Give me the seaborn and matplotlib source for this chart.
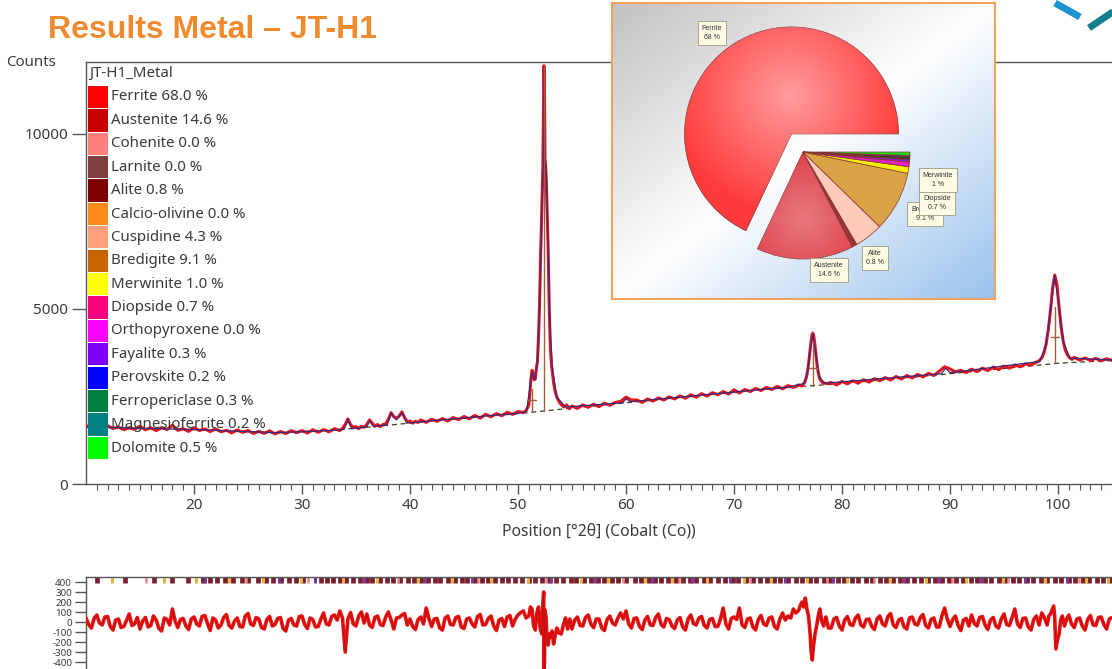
import numpy as np
import matplotlib
matplotlib.use("Agg")
import matplotlib.pyplot as plt
from matplotlib.patches import Rectangle
from matplotlib.lines import Line2D
import seaborn as sns

W, H, DPI = 1112, 669, 100

# ---------------- phase quantification ----------------
phase_names = ["Ferrite", "Austenite", "Cohenite", "Larnite", "Alite", "Calcio-olivine",
               "Cuspidine", "Bredigite", "Merwinite", "Diopside", "Orthopyroxene",
               "Fayalite", "Perovskite", "Ferropericlase", "Magnesioferrite", "Dolomite"]
phase_pct = [68.0, 14.6, 0.0, 0.0, 0.8, 0.0, 4.3, 9.1, 1.0, 0.7, 0.0, 0.3, 0.2, 0.3, 0.2, 0.5]
phase_colors = ["#ff0000", "#c80000", "#ff7f7f", "#7f3f3f", "#7f0000", "#ff8c1a",
                "#ffa07a", "#c86400", "#ffff00", "#ff0080", "#ff00ff", "#8000ff",
                "#0000ff", "#008040", "#008080", "#00ff00"]
pie_colors = {"Ferrite": "#ff3a3a", "Austenite": "#de3f48", "Alite": "#9c3434",
              "Cuspidine": "#ffcbb8", "Bredigite": "#d9a244", "Merwinite": "#f2f000",
              "Diopside": "#e020c0", "Fayalite": "#8a20e0", "Perovskite": "#2020ff",
              "Ferropericlase": "#183a20", "Magnesioferrite": "#106060", "Dolomite": "#20e020"}
pie_labels = {"Ferrite": "68 %", "Austenite": "14.6 %", "Alite": "0.8 %",
              "Bredigite": "9.1 %", "Diopside": "0.7 %", "Merwinite": "1 %"}

# ---------------- measured pattern (counts vs 2theta) ----------------
obs_seg1 = (10.0, 0.5, [1670, 1590, 1640, 1565, 1665, 1585, 1630, 1553, 1605, 1562,
                        1650, 1548, 1610, 1525, 1610, 1557, 1680, 1533, 1580, 1502,
                        1610, 1527, 1575, 1498, 1575, 1492, 1535, 1460, 1545, 1475,
                        1530, 1443, 1505, 1445, 1520, 1430, 1500, 1440, 1525, 1465,
                        1525, 1455, 1550, 1478, 1555, 1490, 1580, 1525])
obs_seg2 = (33.75, 0.25, [1590, 1700, 1860, 1690, 1620, 1640, 1580, 1650, 1620, 1700,
                          1830, 1740, 1650, 1700, 1640, 1700, 1720, 1850, 2040, 1920,
                          1880, 1940, 2060, 1900, 1780, 1800, 1740, 1790, 1760])
obs_seg3 = (41.0, 0.5, [1830, 1760, 1850, 1790, 1870, 1800, 1900, 1840, 1930, 1860,
                        1960, 1880, 1990, 1920, 2010, 1950, 2050, 1990, 2070, 2040])
peak52_2theta = [50.75, 51.0, 51.1, 51.2, 51.3, 51.4, 51.5, 51.6, 51.7, 51.8,
                 51.9, 52.0, 52.1, 52.2, 52.3, 52.4, 52.45, 52.5, 52.6, 52.7,
                 52.8, 52.9, 53.0, 53.1, 53.2, 53.3, 53.4, 53.5, 53.6, 53.8,
                 54.0, 54.25, 54.5, 54.75]
peak52_counts = [2100, 2250, 2600, 3000, 3250, 3150, 2980, 3000, 3300, 3500,
                 4200, 5200, 6600, 7800, 9000, 11950, 11300, 9300, 8900, 7800,
                 6600, 4900, 3900, 3400, 3150, 2900, 2700, 2580, 2480, 2350,
                 2270, 2200, 2260, 2150]
obs_seg5 = (55.0, 0.5, [2230, 2160, 2260, 2190, 2280, 2210, 2310, 2250, 2330, 2360,
                        2480, 2400, 2400, 2330, 2430, 2370, 2460, 2400, 2490, 2430,
                        2520, 2450, 2550, 2480, 2580, 2510, 2610, 2550, 2640, 2570,
                        2690, 2600, 2700, 2640, 2730, 2670, 2760, 2700, 2790, 2720,
                        2810, 2760, 2830])
peak77_2theta = [76.25, 76.5, 76.6, 76.7, 76.8, 76.9, 77.0, 77.1, 77.2, 77.3,
                 77.4, 77.5, 77.6, 77.7, 77.8, 77.9, 78.0, 78.2, 78.4, 78.6]
peak77_counts = [2800, 2880, 2950, 3050, 3200, 3420, 3700, 3980, 4220, 4310,
                 4200, 3950, 3650, 3380, 3180, 3050, 2970, 2900, 2880, 2870]
obs_seg7 = (79.0, 0.5, [2900, 2830, 2930, 2860, 2950, 2880, 2980, 2910, 3010, 2950,
                        3040, 2970, 3070, 3000, 3100, 3030, 3130, 3060, 3160, 3100,
                        3220, 3350, 3290, 3200, 3250, 3180, 3280, 3210, 3310, 3240,
                        3340, 3270, 3370, 3310, 3400, 3350, 3430, 3400, 3480])
peak100_2theta = [98.25, 98.5, 98.7, 98.9, 99.1, 99.3, 99.5, 99.7, 99.9, 100.1,
                  100.3, 100.5, 100.7, 100.9, 101.1, 101.3, 101.5]
peak100_counts = [3520, 3600, 3750, 4000, 4400, 4950, 5600, 5970, 5700, 5050,
                  4450, 4050, 3800, 3680, 3600, 3560, 3620]
obs_seg9 = (102.0, 0.5, [3540, 3600, 3530, 3590, 3520, 3580, 3530])

# calculated profile
calc_2theta = [10, 15, 20, 25, 27.5, 30, 33, 33.9, 34.25, 34.6,
               36.0, 36.25, 36.6, 37.9, 38.25, 38.75, 39.25, 39.7, 45, 50,
               50.8, 51.3, 51.55, 51.8, 52.0, 52.2, 52.35, 52.42, 52.5, 52.65,
               52.8, 52.95, 53.2, 53.6, 54.4, 59.7, 60.0, 60.4, 75, 76.5,
               76.8, 77.0, 77.3, 77.6, 77.9, 78.4, 89.2, 89.6, 90.0, 98.3,
               98.9, 99.3, 99.7, 100.1, 100.5, 101.1, 105]
calc_counts = [1630, 1590, 1560, 1495, 1470, 1490, 1535, 1565, 1840, 1580,
               1630, 1810, 1640, 1690, 2030, 1830, 2040, 1740, 1890, 2020,
               2080, 3200, 2980, 3500, 5100, 7700, 9100, 11900, 9300, 8600,
               6700, 4500, 3250, 2480, 2200, 2320, 2440, 2350, 2770, 2870,
               3180, 3700, 4300, 3650, 3060, 2880, 3150, 3310, 3180, 3500,
               3980, 4930, 5950, 5050, 4050, 3600, 3540]

# background
bg_2theta = [10, 20, 27.5, 35, 40, 45, 50, 55, 60, 65, 70, 75, 80, 85, 90, 95, 100, 105]
bg_counts = [1620, 1550, 1460, 1590, 1740, 1880, 2010, 2170, 2320, 2470, 2620, 2760,
             2870, 3010, 3150, 3300, 3450, 3530]

# fitted peak positions: base, top and half height
mark_2theta = [51.3, 52.4, 77.3, 99.7]
mark_base = [2050, 2090, 2800, 3460]
mark_top = [2700, 11950, 4060, 5060]
mark_half = [2400, None, 3310, 4200]

# ---------------- difference plot ----------------
res_seg1 = (10.0, 0.25, [40, -25, -60, 35, 70, -10, -30, 50,
                         55, -45, -80, 20, 30, -55, -45, 15,
                         80, -35, -20, 45, -70, 10, 45, -50,
                         -35, 60, 20, -65, -90, 40, 25, -30,
                         130, 10, -55, 25, 35, -40, -75, 30,
                         50, -20, -40, 55, 65, -15, -85, 40,
                         20, -60, -30, 45, 75, -35, -60, 10,
                         40, -45, -50, 60, 85, -20, -35, 45,
                         30, -55, -70, 25, 55, -40, -25, 35,
                         45, -65, -90, 20, 35, -30, -40, 55,
                         60, -25, -65, 40, 25, -50, -45, 30,
                         90, -20, -30, 55, 70, 20, 110, 40,
                         -300, 30, 95, -20, -40, 60, 100, -10,
                         80, -30, -55, 45, 60, -25, -35, 50,
                         100, 20, -70, 40, 45, 70, 85, -30,
                         30, -45, -75, 25, 50, -20, 140, 35,
                         -45, 30, 35, -60, -80, 40, 60, -25,
                         -30, 45, 55, -50, -65, 30, 40, -20,
                         -50, 55, 75, -30, -25, 35, 60, -40,
                         -85, 20, 35, -45, 50, 65, -40, 30,
                         70, 95, 110, 40])
res52_2theta = [51.0, 51.15, 51.3, 51.45, 51.6, 51.75, 51.9, 52.05, 52.2, 52.3,
                52.38, 52.42, 52.46, 52.5, 52.6, 52.7, 52.8, 52.9, 53.0, 53.15,
                53.3, 53.45, 53.6, 53.8, 54.0, 54.2, 54.4, 54.6, 54.8]
res52_counts = [60, 150, 130, -40, -80, 90, 150, -60, -120, 180,
                300, -560, -300, 120, 40, -200, -230, -120, -150, -90,
                -220, -130, -60, -110, -120, -30, 40, -70, 30]
res_seg3 = (55.0, 0.25, [-70, 20, 50, -35, -40, 45, 70, -20,
                         -55, 30, 30, -60, -85, 25, 60, -10,
                         -30, 40, 90, 30, 110, -20, -60, 35,
                         40, -45, -75, 20, 55, -30, -35, 45,
                         80, -25, -50, 35, 25, -40, -65, 20,
                         45, -50, -80, 30, 70, -15, -30, 40,
                         55, -35, -60, 25, 35, -45, -45, 30,
                         140, -20, -70, 35, 50, 25, 140, -30,
                         -55, 30, 40, -50, -80, 25, 65, -20,
                         -35, 40, 50, -45, -70, 30, 90, 20,
                         60, 40, 130, 90])
res77_2theta = [76.0, 76.15, 76.3, 76.45, 76.6, 76.75, 76.9, 77.05, 77.15, 77.25,
                77.35, 77.5, 77.65, 77.8, 77.95, 78.1, 78.3, 78.5, 78.75]
res77_counts = [120, 170, 200, 150, 240, 130, 60, -120, -300, -380,
                -250, -120, -40, 60, 130, 20, -40, 50, -60]
res_seg5 = (79.0, 0.25, [-60, 30, 45, -40, -80, 20, 55, -25,
                         -35, 40, 70, -30, -50, 25, 30, -45,
                         -75, 30, 60, -20, -40, 55, 85, -30,
                         -55, 20, 35, -50, -70, 40, 50, -20,
                         -30, 45, 75, -35, -60, 25, 40, -50,
                         -50, 60, 140, 30, -45, 25, 60, -35,
                         -85, 20, 35, -40, 70, -15, -40, 45,
                         55, -30, -75, 20, 45, -40, -60, 30,
                         80, -25, -35, 45, 130, -20, -55, 35,
                         40, -50, -80, 25, 60, -30, 90, 40])
res100_2theta = [99.0, 99.15, 99.3, 99.45, 99.6, 99.7, 99.8, 99.95, 100.1, 100.25,
                 100.4, 100.6, 100.8]
res100_counts = [-30, 60, 80, 120, 160, 40, -270, -180, -120, 20, 60, -40, 30]
res_seg7 = (101.0, 0.25, [70, -20, -55, 30, 40, -40, -80, 25, 65, -30, -35, 45,
                          50, -25, -70, 30, 45])

# reflection positions of the refined phases
refl_maroon = [11.0, 13.6, 16.3, 18.0, 19.4, 20.8, 21.5, 22.1, 22.9, 23.6, 24.4, 25.0, 25.9,
               26.7, 27.3, 28.1, 28.8, 29.4, 30.1, 31.8, 32.3, 32.9, 33.5, 34.1, 34.7, 35.4,
               36.0, 36.5, 37.2, 37.9, 38.4, 39.1, 39.8, 40.4, 41.0, 41.7, 42.3, 42.8, 43.5,
               44.2, 44.8, 45.3, 46.0, 46.7, 47.2, 47.9, 48.5, 49.1, 49.7, 50.4, 51.0, 51.6,
               52.2, 52.9, 53.5, 54.2, 54.9, 55.4, 56.1, 56.8, 57.4, 58.0, 58.7, 59.3, 60.0,
               60.8, 61.4, 62.1, 62.7, 63.2, 63.9, 64.6, 65.3, 65.9, 66.5, 67.2, 67.8, 68.5,
               69.2, 69.9, 70.4, 71.1, 71.8, 72.4, 73.1, 73.7, 74.3, 75.0, 75.7, 76.3, 77.0,
               77.6, 78.3, 78.9, 79.6, 80.2, 80.9, 81.5, 82.2, 82.8, 83.5, 84.1, 84.7, 85.4,
               86.0, 86.7, 87.3, 88.0, 88.6, 89.3, 89.9, 90.6, 91.2, 91.9, 92.5, 93.2, 93.8,
               94.5, 95.1, 95.8, 96.4, 97.1, 97.7, 98.4, 99.0, 99.7, 100.3, 101.0, 101.6,
               102.3, 102.9, 103.6, 104.2, 104.8]
refl_gold = [12.4, 17.2, 20.2, 23.2, 26.4, 29.9, 33.8, 36.9, 40.7, 43.9, 47.5, 50.9, 55.8,
             58.3, 61.8, 64.3, 67.5, 70.9, 73.4, 76.8, 80.5, 84.4, 87.8, 91.5, 94.9, 98.8,
             102.6, 104.6]
refl_purple = [21.0, 27.9, 31.2, 35.7, 41.4, 45.7, 53.1, 57.1, 62.4, 66.1, 69.6, 74.7, 79.2,
               85.7, 89.0, 92.9, 96.9, 100.8]
refl_pink = [15.6, 24.8, 30.6, 38.9, 46.3, 52.6, 59.7, 64.9, 71.5, 78.6, 83.0, 90.2, 95.4, 101.9]


def expand(seg):
    start, step, vals = seg
    return list(start + step * np.arange(len(vals))), list(vals)


def join(*parts):
    xs, ys = [], []
    for px, py in parts:
        xs += list(px)
        ys += list(py)
    return np.array(xs, float), np.array(ys, float)


obs_x, obs_y = join(expand(obs_seg1), expand(obs_seg2), expand(obs_seg3),
                    (peak52_2theta, peak52_counts), expand(obs_seg5),
                    (peak77_2theta, peak77_counts), expand(obs_seg7),
                    (peak100_2theta, peak100_counts), expand(obs_seg9))
res_x, res_y = join(expand(res_seg1), (res52_2theta, res52_counts), expand(res_seg3),
                    (res77_2theta, res77_counts), expand(res_seg5),
                    (res100_2theta, res100_counts), expand(res_seg7))

# ---------------- figure ----------------
sns.set_theme(style="white")
plt.rcParams["font.family"] = ["Noto Sans", "DejaVu Sans"]
fig = plt.figure(figsize=(W / DPI, H / DPI), dpi=DPI)
fig.patch.set_facecolor("white")


def fx(px):
    return px / W


def fy(py):
    return 1 - py / H


ink = "#3a3a3a"
spine_c = "#555555"

# main pattern axes
ax = fig.add_axes([fx(86), fy(484), fx(1112) - fx(86), fy(62) - fy(484)])
ax.set_xlim(10, 105)
ax.set_ylim(0, 12057)
sns.lineplot(x=bg_2theta, y=bg_counts, ax=ax, color="#4a3a20", lw=0.9,
             linestyle=(0, (4, 3)), sort=False, estimator=None, zorder=2)
sns.lineplot(x=obs_x, y=obs_y, ax=ax, color="#e8141e", lw=2.2, sort=False,
             estimator=None, zorder=3)
sns.lineplot(x=calc_2theta, y=calc_counts, ax=ax, color="#3c2a7c", lw=0.9,
             sort=False, estimator=None, zorder=4)
for pos, b, t, hh in zip(mark_2theta, mark_base, mark_top, mark_half):
    ax.plot([pos, pos], [b, t], color="#a0603a", lw=1.0, zorder=5)
    if hh is not None:
        ax.plot([pos - 0.35, pos + 0.35], [hh, hh], color="#a0603a", lw=1.0, zorder=5)

ax.set_xticks(range(20, 101, 10))
ax.set_xticks(range(11, 106), minor=True)
ax.set_yticks([0, 5000, 10000])
ax.tick_params(axis="x", which="major", direction="out", length=7, width=1,
               color=spine_c, labelsize=11, labelcolor=ink, pad=3, bottom=True)
ax.tick_params(axis="x", which="minor", direction="out", length=4, width=0.8,
               color=spine_c, bottom=True)
ax.tick_params(axis="y", which="major", direction="out", length=10, width=1,
               color=spine_c, labelsize=11, labelcolor=ink, pad=3, left=True)
for side in ["left", "top", "bottom"]:
    ax.spines[side].set_color(spine_c)
    ax.spines[side].set_linewidth(1.0)
ax.spines["right"].set_visible(False)
ax.set_xlabel("Position [°2θ] (Cobalt (Co))", fontsize=11.3, color=ink, labelpad=8)
ax.set_ylabel("")
ax.set_facecolor("white")

# difference axes
axr = fig.add_axes([fx(86), 0, fx(1112) - fx(86), fy(577)])
axr.set_xlim(10, 105)
axr.set_ylim(-470, 450)
for col, lw_ref, refl in [("#7a1e2e", 3.4, refl_maroon), ("#e2b640", 2.2, refl_gold),
                          ("#7c3a9c", 2.2, refl_purple), ("#e88a8a", 1.8, refl_pink)]:
    axr.vlines(refl, 390, 450, colors=col, lw=lw_ref, zorder=2)
sns.lineplot(x=res_x, y=res_y, ax=axr, color="#f01010", lw=2.6, sort=False,
             estimator=None, zorder=3)
axr.plot(res_x, res_y, color="#7a1414", lw=0.5, alpha=0.6, zorder=4)
axr.set_yticks(range(-400, 401, 100))
axr.set_yticklabels([str(v) for v in range(-400, 401, 100)])
axr.set_xticks([])
axr.tick_params(axis="y", direction="out", length=8, width=1, color=spine_c,
                labelsize=7, labelcolor=ink, pad=2, left=True)
for side in ["left", "top"]:
    axr.spines[side].set_color(spine_c)
    axr.spines[side].set_linewidth(1.0)
axr.spines["right"].set_visible(False)
axr.spines["bottom"].set_visible(False)
axr.set_xlabel("")
axr.set_ylabel("")

# phase legend
fig.text(fx(89), fy(73), "JT-H1_Metal", fontsize=10.8, color=ink, va="center", ha="left")
row_h = 23.4
for i, (name, pct, col) in enumerate(zip(phase_names, phase_pct, phase_colors)):
    yc = 97 + row_h * i
    fig.add_artist(Rectangle((fx(88), fy(yc + row_h / 2 - 0.6)), fx(108) - fx(88),
                             (row_h - 1.2) / H, transform=fig.transFigure,
                             facecolor=col, edgecolor="none", zorder=5))
    fig.text(fx(111), fy(yc), f"{name} {pct:.1f} %", fontsize=10.8, color=ink,
             va="center", ha="left", zorder=6)

# titles
fig.text(fx(48), fy(30), "Results Metal \u2013 JT-H1", fontsize=23, fontweight="bold",
         color="#f08a2e", family=["Liberation Sans", "DejaVu Sans"], va="center", ha="left")
fig.text(fx(6), fy(62), "Counts", fontsize=10.8, color=ink, va="center", ha="left")

# logo strokes
fig.add_artist(Line2D([fx(1055), fx(1080)], [fy(3), fy(17)], transform=fig.transFigure,
                      color="#1a95cc", lw=5, solid_capstyle="butt"))
fig.add_artist(Line2D([fx(1089), fx(1114)], [fy(28), fy(11)], transform=fig.transFigure,
                      color="#12808f", lw=5, solid_capstyle="butt"))

# ---------------- phase pie inset ----------------
axp = fig.add_axes([fx(612), fy(299), fx(995) - fx(612), fy(3) - fy(299)])
bw, bh = 383, 296
gx, gy = np.meshgrid(np.linspace(0, 1, 200), np.linspace(0, 1, 160))
t = (gx + (1 - gy)) / 2
c_gray = np.array([0.76, 0.76, 0.77])
c_white = np.array([1.0, 1.0, 1.0])
c_blue = np.array([0.60, 0.76, 0.93])
bg_img = np.where((t < 0.5)[..., None],
                  c_gray + (c_white - c_gray) * (t / 0.5)[..., None],
                  c_white + (c_blue - c_white) * ((t - 0.5) / 0.5)[..., None])
axp.imshow(bg_img, extent=(0, bw, 0, bh), origin="lower", aspect="auto", zorder=0)

pie_r = 107
pie_names = [n for n, p in zip(phase_names, phase_pct) if p > 0]
pie_vals = [p for p in phase_pct if p > 0]
explode = [0.2 * pie_r if n == "Ferrite" else 0.0 for n in pie_names]
wedges, _ = axp.pie(pie_vals, colors=[pie_colors[n] for n in pie_names], startangle=0,
                    counterclock=True, explode=explode, center=(191, 147), radius=pie_r,
                    frame=True, wedgeprops=dict(edgecolor="#8a3030", linewidth=0.5))
for w in wedges:
    w.set_zorder(2)


# soft highlight on the two large slices
def glow(wedge, cx, cy, rad, strength):
    d = np.hypot(gx * bw - cx, gy * bh - cy)
    rgba = np.zeros(gx.shape + (4,))
    rgba[..., :3] = 1.0
    rgba[..., 3] = strength * np.clip(1 - d / rad, 0, 1)
    im = axp.imshow(rgba, extent=(0, bw, 0, bh), origin="lower", aspect="auto", zorder=3)
    im.set_clip_path(wedge)


glow(wedges[0], 178, 204, 120, 0.5)
glow(wedges[1], 192, 80, 70, 0.3)

axp.set_xlim(0, bw)
axp.set_ylim(0, bh)
axp.set_aspect("auto")
axp.set_xticks([])
axp.set_yticks([])
for s in axp.spines.values():
    s.set_color("#f0a35a")
    s.set_linewidth(1.5)

label_pos = {"Ferrite": (100, 266), "Austenite": (217, 29), "Alite": (263, 41),
             "Bredigite": (313, 85), "Diopside": (325, 96), "Merwinite": (326, 119)}
for name in ["Ferrite", "Austenite", "Alite", "Bredigite", "Diopside", "Merwinite"]:
    x0, y0 = label_pos[name]
    axp.text(x0, y0, f"{name}\n{pie_labels[name]}", fontsize=5, color="#333333",
             ha="center", va="center", linespacing=1.3, zorder=6,
             family=["Liberation Sans", "DejaVu Sans"],
             bbox=dict(boxstyle="square,pad=0.6", fc="#fdfbe2", ec="#9a9a86", lw=0.6))

fig.savefig("out.png", dpi=DPI, facecolor="white")
